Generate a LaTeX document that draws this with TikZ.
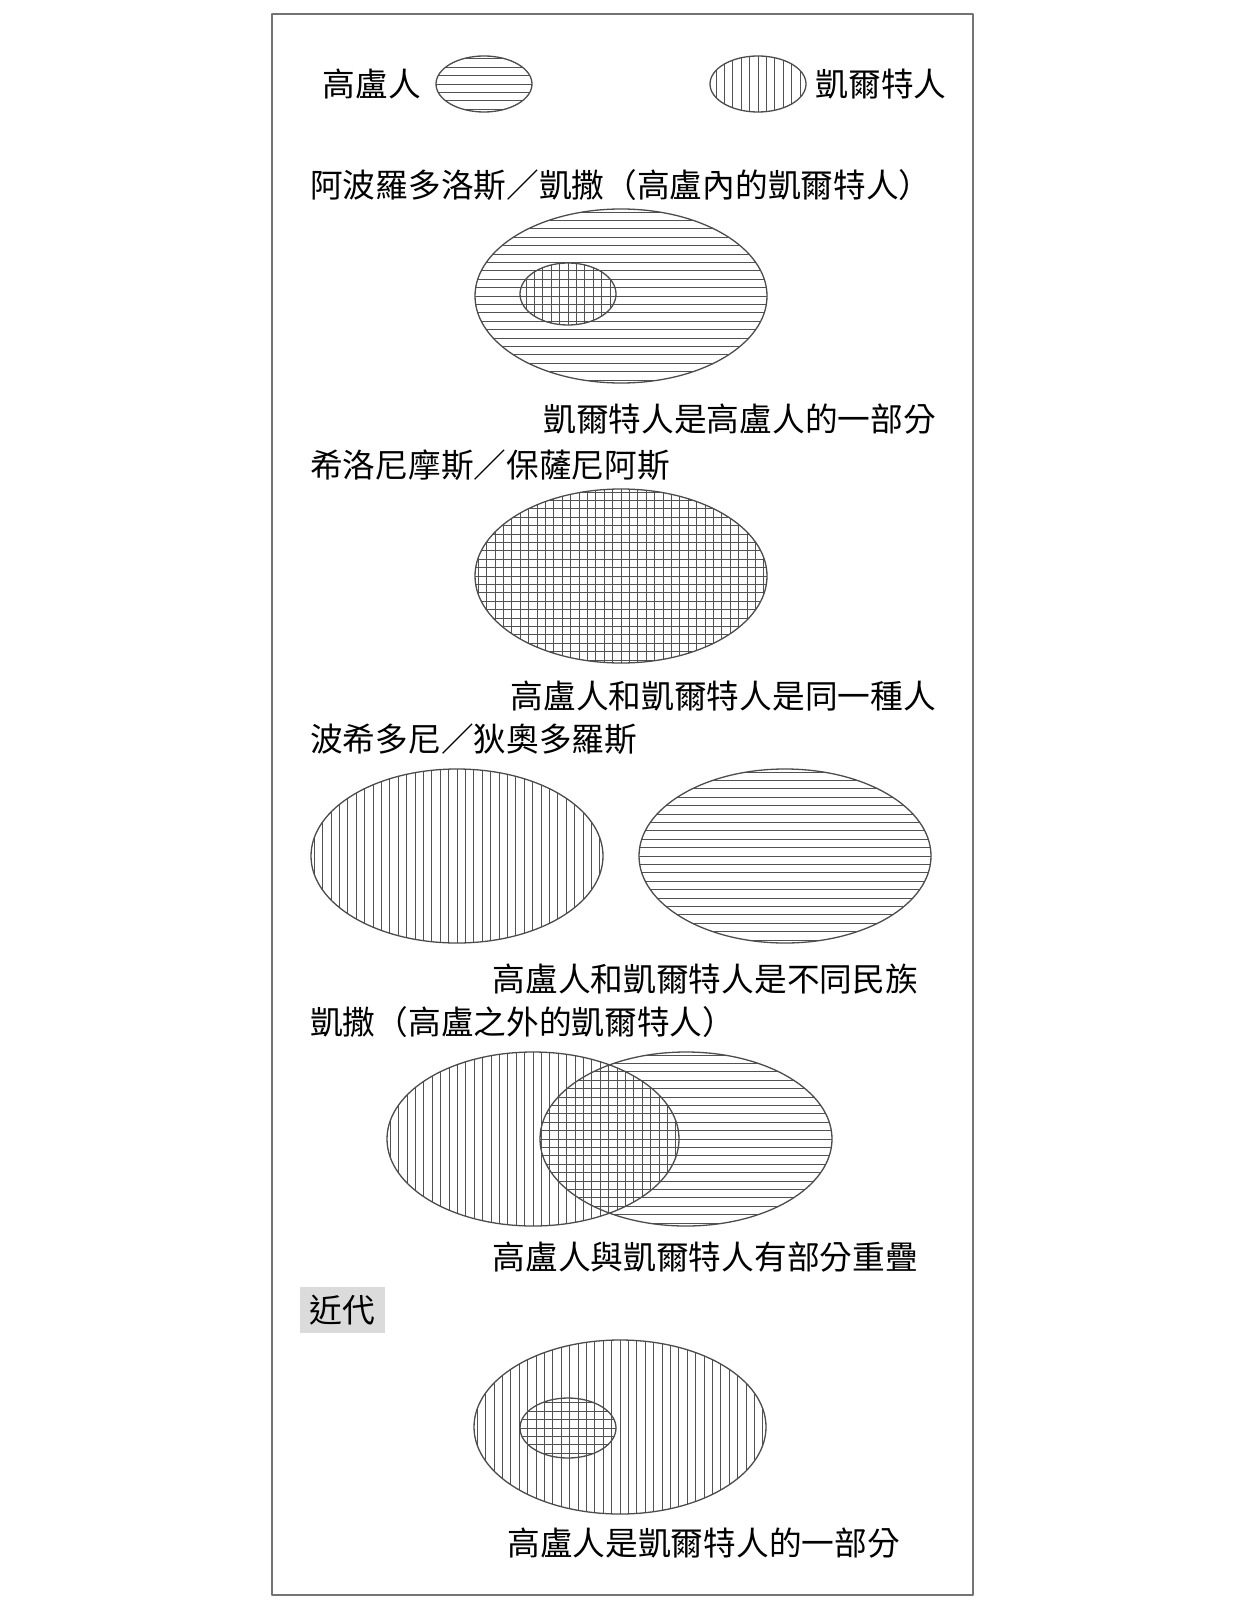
\documentclass[tikz,border=0pt]{standalone}
\usepackage{fontspec}
\newfontfamily\cjk{Noto Sans CJK TC}
\tikzset{
	rim/.style={draw=black!70, line width=1.3pt},
	hatch/.style={draw=black!68, line width=0.9pt},
	head/.style={anchor=west, inner sep=0pt},
	capt/.style={anchor=east, inner sep=0pt},
	era/.style={fill=black!14, inner sep=0pt, minimum width=85pt, minimum height=46pt},
}
% horizontal and vertical hatching clipped to an ellipse: {cx}{cy}{rx}{ry}
\newcommand\hatchH[4]{%
	\begin{scope}
		\clip (#1,#2) ellipse [x radius=#3pt, y radius=#4pt];
		\foreach \k in {-12,...,12}
			\draw[hatch] ({#1-#3},{#2+(\k)*8.4}) -- ({#1+#3},{#2+(\k)*8.4});
	\end{scope}}
\newcommand\hatchV[4]{%
	\begin{scope}
		\clip (#1,#2) ellipse [x radius=#3pt, y radius=#4pt];
		\foreach \k in {-20,...,20}
			\draw[hatch] ({#1+(\k)*8.4},{#2-#4}) -- ({#1+(\k)*8.4},{#2+#4});
	\end{scope}}
\begin{document}
\begin{tikzpicture}[x=1pt, y=-1pt, font=\cjk\fontsize{32.7}{38}\selectfont, line join=round, line cap=round]
	\useasboundingbox (0,0) rectangle (1250,1602);
	\draw[black!55, line width=1.2pt] (272,14) rectangle (973,1595);

	% legend
	\node (gaul) at (372,84) {高盧人};
	\hatchH{484}{84}{48}{28}
	\draw[rim] (484,84) ellipse [x radius=48pt, y radius=28pt];
	\hatchV{758}{84}{48}{28}
	\draw[rim] (758,84) ellipse [x radius=48pt, y radius=28pt];
	\node (celt) at (881,84) {凱爾特人};

	% Apollodorus / Caesar
	\node[head] (h1) at (310,185) {阿波羅多洛斯／凱撒（高盧內的凱爾特人）};
	\hatchH{621}{296}{146}{87}
	\hatchV{568}{294}{48}{31}
	\draw[rim] (621,296) ellipse [x radius=146pt, y radius=87pt];
	\draw[rim] (568,294) ellipse [x radius=48pt, y radius=31pt];
	\node[capt] (c1) at (936,419) {凱爾特人是高盧人的一部分};

	% Hieronymus / Pausanias
	\node[head] (h2) at (310,465) {希洛尼摩斯／保薩尼阿斯};
	\hatchH{621}{576}{146}{87}
	\hatchV{621}{576}{146}{87}
	\draw[rim] (621,576) ellipse [x radius=146pt, y radius=87pt];
	\node[capt] (c2) at (936,696) {高盧人和凱爾特人是同一種人};

	% Posidonius / Diodorus
	\node[head] (h3) at (310,739) {波希多尼／狄奧多羅斯};
	\hatchV{457}{856}{146}{87}
	\draw[rim] (457,856) ellipse [x radius=146pt, y radius=87pt];
	\hatchH{785}{856}{146}{87}
	\draw[rim] (785,856) ellipse [x radius=146pt, y radius=87pt];
	\node[capt] (c3) at (918,979) {高盧人和凱爾特人是不同民族};

	% Caesar outside Gaul
	\node[head] (h4) at (310,1022) {凱撒（高盧之外的凱爾特人）};
	\hatchV{533}{1139}{146}{87}
	\hatchH{686}{1139}{146}{87}
	\draw[rim] (533,1139) ellipse [x radius=146pt, y radius=87pt];
	\draw[rim] (686,1139) ellipse [x radius=146pt, y radius=87pt];
	\node[capt] (c4) at (918,1257) {高盧人與凱爾特人有部分重疊};

	% modern
	\node[era] (modern) at (342,1310) {近代};
	\hatchV{620}{1427}{146}{87}
	\hatchH{568}{1428}{48}{30}
	\draw[rim] (620,1427) ellipse [x radius=146pt, y radius=87pt];
	\draw[rim] (568,1428) ellipse [x radius=48pt, y radius=30pt];
	\node[capt] (c5) at (900,1543) {高盧人是凱爾特人的一部分};
\end{tikzpicture}
\end{document}
